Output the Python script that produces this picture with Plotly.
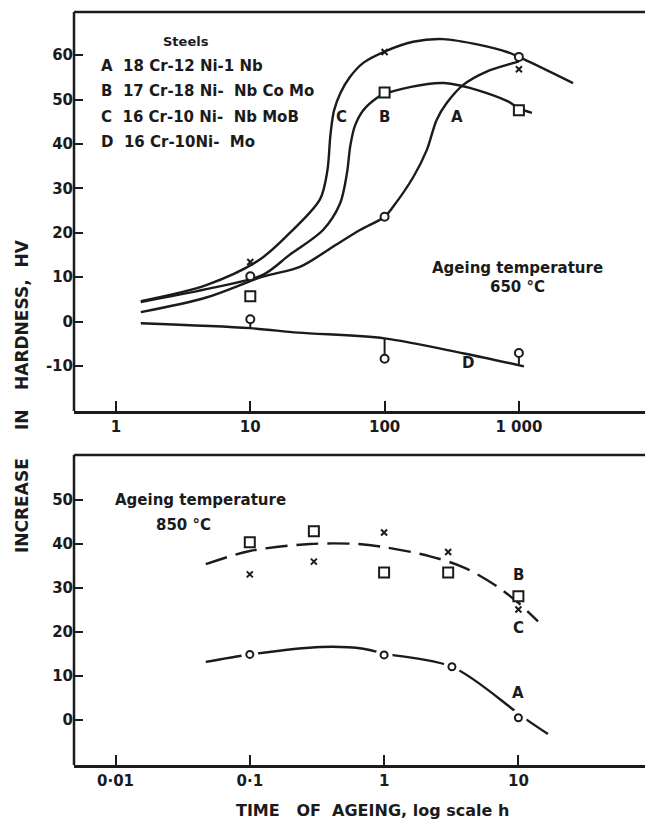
import numpy as np
import plotly.graph_objects as go

# ---------------- DATA ----------------
# Upper panel: ageing at 650 °C, time in hours
top_times = [10, 100, 1000]
top_A_pts = [10.2, 23.6, 59.6]      # circles (steel A)
top_B_pts = [5.7, 51.6, 47.6]       # squares (steel B)
top_C_pts = [13.4, 60.7, 56.8]      # crosses (steel C)
top_D_pts = [0.5, -8.4, -7.1]       # circles (steel D)
top_D_stem_up = [0, 4.6, 0]
top_D_stem_down = [2.0, 0, 2.5]

top_C_curve_t = [1.53, 4.7, 11.7, 19.6, 33, 37.5, 39.5, 42, 47, 55, 69, 102, 163, 272, 510, 816, 1000, 2530]
top_C_curve_v = [4.6, 8.2, 13.9, 19.9, 27.5, 34.0, 42.0, 47.5, 51.5, 55.0, 58.2, 60.9, 63.0, 63.6, 62.3, 60.7, 59.6, 53.7]
top_B_curve_t = [1.53, 4.7, 12.4, 19.6, 34.8, 46.5, 52.5, 55.5, 60, 69.4, 87, 100, 277, 813, 1000, 1250]
top_B_curve_v = [4.4, 7.3, 10.5, 15.0, 20.6, 26.5, 33.5, 39.5, 44.0, 47.6, 50.3, 51.3, 53.7, 49.7, 48.0, 47.0]
top_A_curve_t = [1.53, 4.7, 12.4, 23.4, 41, 65.6, 100, 116, 164, 206, 244, 290, 385, 575, 904, 1000]
top_A_curve_v = [2.1, 5.4, 10.1, 12.3, 16.8, 20.6, 23.6, 25.9, 32.6, 38.6, 45.4, 49.2, 53.3, 56.3, 58.2, 58.6]
top_D_curve_t = [1.53, 10, 22.7, 100, 390, 1090]
top_D_curve_v = [-0.4, -1.5, -2.5, -3.8, -7.2, -10.1]

# Lower panel: ageing at 850 °C, time in hours
bot_A_t = [0.1, 1, 3.2, 10]
bot_A_pts = [14.9, 14.8, 12.1, 0.5]
bot_B_t = [0.1, 0.3, 1, 3, 10]
bot_B_pts = [40.4, 42.9, 33.5, 33.5, 28.1]
bot_C_t = [0.1, 0.3, 1, 3, 10]
bot_C_pts = [33.1, 36.0, 42.6, 38.2, 25.1]

bot_BC_curve_t = [0.047, 0.1, 0.28, 0.63, 1, 2.2, 3.9, 6.9, 10, 14]
bot_BC_curve_v = [35.4, 38.4, 40.0, 40.0, 39.3, 37.2, 34.7, 30.4, 26.6, 22.4]
bot_A_curve_t = [0.047, 0.1, 0.34, 0.7, 1, 3.2, 8.6, 10, 16.6]
bot_A_curve_v = [13.2, 14.9, 16.6, 16.2, 15.1, 12.1, 3.0, 1.4, -3.2]

top_ticks = [1, 10, 100, 1000]
top_ticktext = ["1", "10", "100", "1 000"]
bot_ticks = [0.01, 0.1, 1, 10]
bot_ticktext = ["0·01", "0·1", "1", "10"]
top_yticks = [-10, 0, 10, 20, 30, 40, 50, 60]
bot_yticks = [0, 10, 20, 30, 40, 50]

steels = [
    "A  18 Cr-12 Ni-1 Nb",
    "B  17 Cr-18 Ni-  Nb Co Mo",
    "C  16 Cr-10 Ni-  Nb MoB",
    "D  16 Cr-10Ni-  Mo",
]

# ---------------- STYLE ----------------
INK = "#1b1b1b"
FONT = "DejaVu Sans"
W, H = 645, 831
L = 74


def px(x):
    return (x - L) / (W - L)


def py(y):
    return 1 - y / H


fig = go.Figure()

line = dict(color=INK, width=2.4, shape="spline", smoothing=0.9)

# upper curves
for t, v in [(top_C_curve_t, top_C_curve_v), (top_B_curve_t, top_B_curve_v),
             (top_A_curve_t, top_A_curve_v), (top_D_curve_t, top_D_curve_v)]:
    fig.add_trace(go.Scatter(x=t, y=v, mode="lines", line=line, xaxis="x", yaxis="y",
                             hoverinfo="skip"))

# upper markers
fig.add_trace(go.Scatter(x=top_times, y=top_D_pts, mode="markers", xaxis="x", yaxis="y",
                         marker=dict(symbol="circle", size=8, color="white",
                                     line=dict(color=INK, width=2)),
                         error_y=dict(type="data", symmetric=False, array=top_D_stem_up,
                                      arrayminus=top_D_stem_down, width=0,
                                      thickness=2, color=INK)))
fig.add_trace(go.Scatter(x=top_times, y=top_A_pts, mode="markers", xaxis="x", yaxis="y",
                         marker=dict(symbol="circle", size=8, color="white",
                                     line=dict(color=INK, width=2))))
fig.add_trace(go.Scatter(x=top_times, y=top_B_pts, mode="markers", xaxis="x", yaxis="y",
                         marker=dict(symbol="square", size=10, color="white",
                                     line=dict(color=INK, width=2))))
fig.add_trace(go.Scatter(x=top_times, y=top_C_pts, mode="markers", xaxis="x", yaxis="y",
                         marker=dict(symbol="x-thin", size=6,
                                     line=dict(color=INK, width=2))))

# lower curves
fig.add_trace(go.Scatter(x=bot_BC_curve_t, y=bot_BC_curve_v, mode="lines", xaxis="x2", yaxis="y2",
                         line=dict(color=INK, width=2.4, shape="spline", smoothing=0.9,
                                   dash="22px,9px")))
fig.add_trace(go.Scatter(x=bot_A_curve_t, y=bot_A_curve_v, mode="lines", xaxis="x2", yaxis="y2",
                         line=dict(color=INK, width=2.4, shape="spline", smoothing=0.9)))
# white halos to open gaps in the line around the A markers
fig.add_trace(go.Scatter(x=bot_A_t, y=bot_A_pts, mode="markers", xaxis="x2", yaxis="y2",
                         marker=dict(symbol="circle", size=17, color="white", line=dict(width=0))))
fig.add_trace(go.Scatter(x=bot_A_t, y=bot_A_pts, mode="markers", xaxis="x2", yaxis="y2",
                         marker=dict(symbol="circle", size=7, color="white",
                                     line=dict(color=INK, width=2))))
fig.add_trace(go.Scatter(x=bot_B_t, y=bot_B_pts, mode="markers", xaxis="x2", yaxis="y2",
                         marker=dict(symbol="square", size=10, color="white",
                                     line=dict(color=INK, width=2))))
fig.add_trace(go.Scatter(x=bot_C_t, y=bot_C_pts, mode="markers", xaxis="x2", yaxis="y2",
                         marker=dict(symbol="x-thin", size=6,
                                     line=dict(color=INK, width=2))))

tickfont = dict(family=FONT, size=15, color=INK, weight="bold")
axis_common = dict(showgrid=False, zeroline=False, ticks="inside", tickwidth=2, tickcolor=INK,
                   tickfont=tickfont, mirror=False)

top_dom = [py(411), py(12)]
bot_dom = [py(765), py(455)]

fig.update_layout(
    width=W, height=H,
    margin=dict(l=L, r=0, t=0, b=0),
    paper_bgcolor="white", plot_bgcolor="white",
    showlegend=False,
    font=dict(family=FONT, color=INK),
    xaxis=dict(axis_common, type="log", domain=[0, 1], anchor="y", showline=True,
               linewidth=2.5, linecolor=INK,
               range=[(L - 116) / 134.3, (W - 116) / 134.3],
               tickvals=top_ticks, ticktext=top_ticktext, ticklen=10),
    yaxis=dict(axis_common, domain=top_dom, anchor="x", showline=False,
               range=[(321.5 - 411) / 4.44, (321.5 - 12) / 4.44],
               tickvals=top_yticks, ticktext=[str(v) for v in top_yticks], ticklen=9),
    xaxis2=dict(axis_common, type="log", domain=[0, 1], anchor="y2", showline=True,
                linewidth=2.5, linecolor=INK,
                range=[(L - 115.5) / 134.3 - 2, (W - 115.5) / 134.3 - 2],
                tickvals=bot_ticks, ticktext=bot_ticktext, ticklen=10),
    yaxis2=dict(axis_common, domain=bot_dom, anchor="x2", showline=False,
                range=[(720 - 765) / 4.4, (720 - 455) / 4.4],
                tickvals=bot_yticks, ticktext=[str(v) for v in bot_yticks], ticklen=9),
)

# frame lines: top edge and left edge of each panel (the frame runs off the right of the page)
for dom in (top_dom, bot_dom):
    fig.add_shape(type="line", xref="paper", yref="paper", x0=0, x1=1.02, y0=dom[1], y1=dom[1],
                  line=dict(color=INK, width=2.5))
    fig.add_shape(type="line", xref="paper", yref="paper", x0=0, x1=0, y0=dom[0], y1=dom[1],
                  line=dict(color=INK, width=2.5))

ann = []
txt = dict(family=FONT, size=15, color=INK, weight="bold")

# "legend" block of steels
ann.append(dict(text="Steels", x=px(186), y=py(32), xref="paper", yref="paper", xanchor="center",
                showarrow=False, font=dict(family=FONT, size=13, color=INK, weight="bold")))
for s, yy in zip(steels, [55, 80, 106, 131]):
    ann.append(dict(text=s, x=px(99), y=py(yy), xref="paper", yref="paper", xanchor="left",
                    showarrow=False, font=txt))

# curve letters (upper)
for lab, t, v in [("C", 47.9, 46.1), ("B", 100, 46.0), ("A", 344, 46.0), ("D", 420, -9.4)]:
    ann.append(dict(text=lab, x=np.log10(t), y=v, xref="x", yref="y", showarrow=False,
                    xanchor="center", font=txt))
# curve letters (lower)
for lab, t, v in [("B", 10, 33.0), ("C", 10, 21.0), ("A", 10, 6.2)]:
    ann.append(dict(text=lab, x=np.log10(t), y=v, xref="x2", yref="y2", showarrow=False,
                    xanchor="center", font=txt))

for s, x0, y0 in [("Ageing temperature", 517, 258), ("650 °C", 517, 287),
                  ("Ageing temperature", 200, 500), ("850 °C", 183, 525)]:
    ann.append(dict(text=s, x=px(x0), y=py(y0), xref="paper", yref="paper", xanchor="center",
                    showarrow=False, font=txt, borderpad=0))

# axis titles
ann.append(dict(text="TIME   OF  AGEING, log scale h", x=px(372), y=py(822), xref="paper",
                yref="paper", xanchor="center", showarrow=False,
                font=dict(family=FONT, size=16, color=INK, weight="bold")))
for s, yy in [("INCREASE", 506), ("IN", 420), ("HARDNESS,  HV", 315)]:
    ann.append(dict(text=s, x=px(22), y=py(yy), xref="paper", yref="paper", textangle=-90,
                    xanchor="center", yanchor="middle", showarrow=False,
                    font=dict(family=FONT, size=17, color=INK, weight="bold")))

fig.update_layout(annotations=ann)
fig.write_html("out.html", config={"staticPlot": True, "displayModeBar": False})
